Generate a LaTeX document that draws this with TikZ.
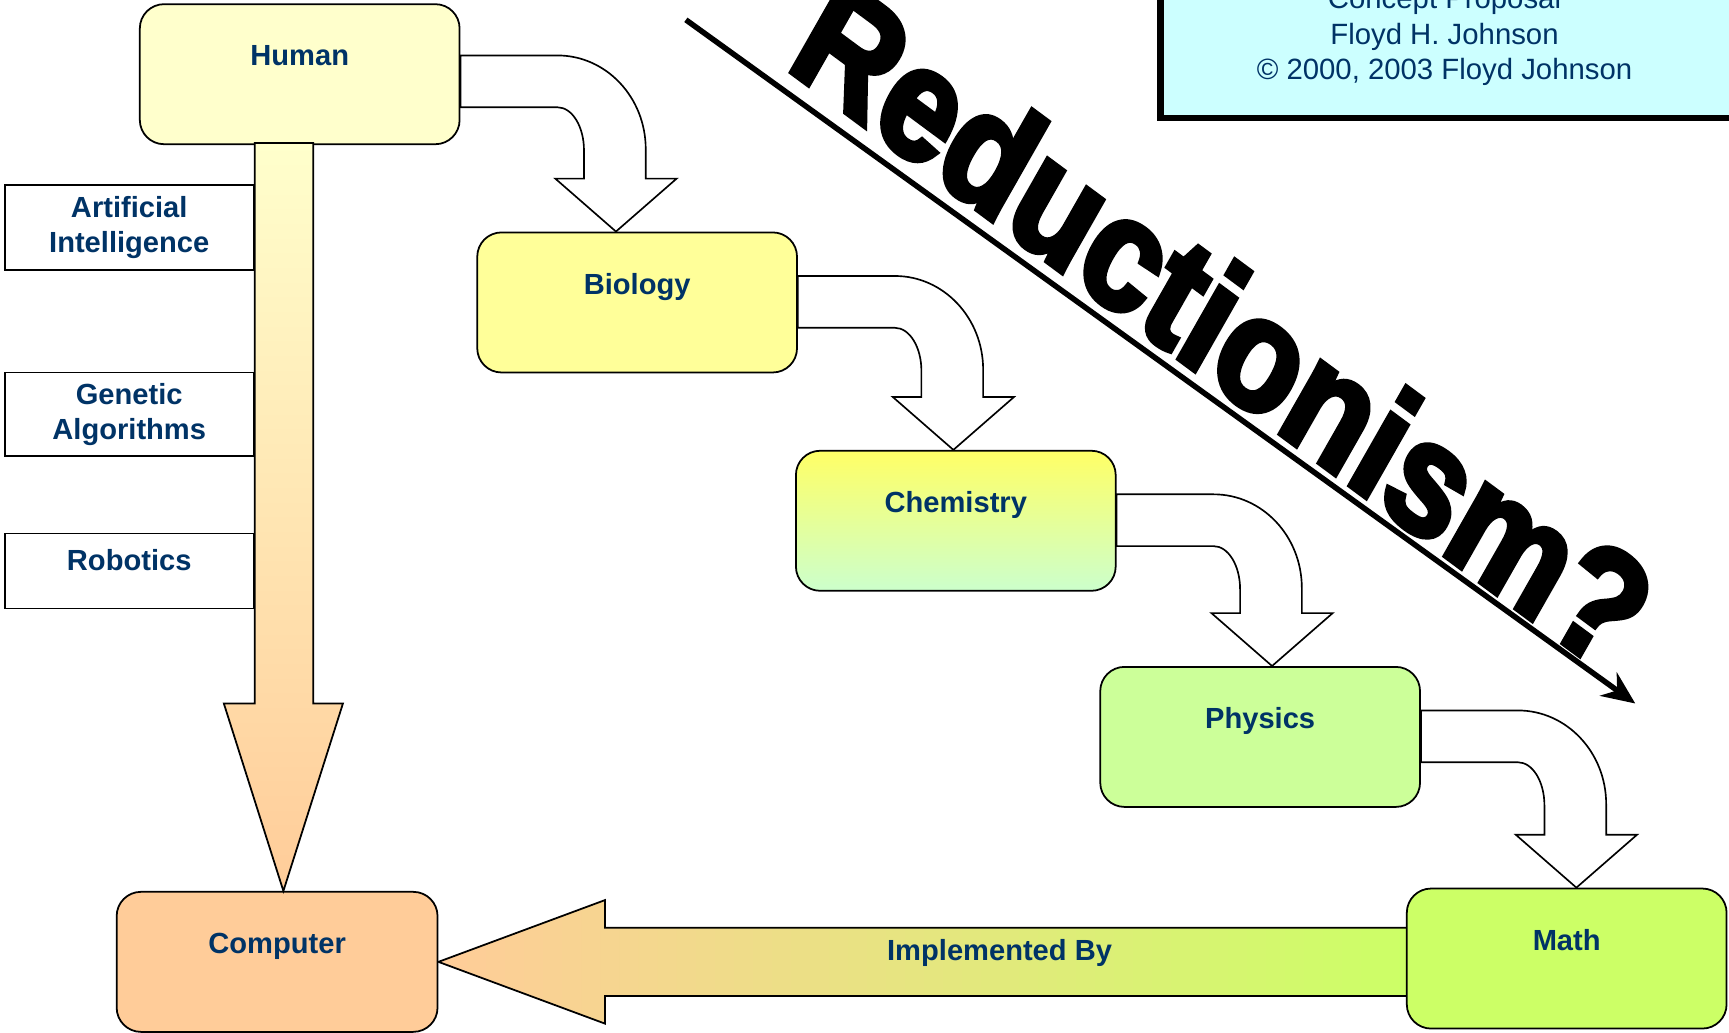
\documentclass[tikz,border=0pt]{standalone}
\usepackage{fontspec}
\setmainfont{Liberation Sans}
\newfontfamily\heavyfont[FakeBold=4]{Liberation Sans Bold}
\usetikzlibrary{arrows.meta}
\usetikzlibrary{positioning}
\usetikzlibrary{calc}
\usetikzlibrary{backgrounds}

\definecolor{labelblue}{HTML}{003366}
\definecolor{humanfill}{HTML}{FFFFCC}
\definecolor{biofill}{HTML}{FFFF99}
\definecolor{chemtop}{HTML}{FFFF66}
\definecolor{chembottom}{HTML}{CCFFCC}
\definecolor{physfill}{HTML}{CCFF99}
\definecolor{mathfill}{HTML}{CCFF66}
\definecolor{compfill}{HTML}{FFCC99}
\definecolor{titlefill}{HTML}{CCFFFF}

\begin{document}
\begin{tikzpicture}[x=0.5pt,y=0.5pt]
  \tikzset{sciencebox/.style={draw,line width=0.8pt,rounded corners=11pt,anchor=north west,
                              minimum width=145pt,inner ysep=0pt,text height=28pt,text depth=35.5pt,
                              font=\fontsize{13.2}{16}\selectfont\bfseries,text=labelblue},
           fieldbox/.style={draw,line width=0.8pt,fill=white,anchor=north east,minimum width=113pt,
                            align=center,font=\fontsize{13.2}{16}\selectfont\bfseries,text=labelblue},
           bentarrow/.style={draw,line width=0.75pt,fill=white},
           reduces/.style={-{Stealth[length=15pt,width=13pt]},line width=2.5pt}}
  \useasboundingbox (0,0) rectangle (1568,936);
  \clip (0,0) rectangle (1568,936);

  \node[sciencebox,fill=humanfill] (human) at (126,933) {Human};
  \node[sciencebox,fill=biofill] (biology) at (432,726) {Biology};
  \node[sciencebox,top color=chemtop,bottom color=chembottom] (chemistry) at (721,528) {Chemistry};
  \node[sciencebox,fill=physfill] (physics) at (997,332) {Physics};
  \node[sciencebox,fill=mathfill] (math) at (1275,131) {Math};
  \node[sciencebox,fill=compfill,minimum width=145.5pt] (computer) at (105,128) {Computer};

  \node[fieldbox,minimum height=38.5pt] (ai) at (231,769) {Artificial\\Intelligence};
  \node[fieldbox,minimum height=38pt] (genetic) at (231,599) {Genetic\\Algorithms};
  \node[fieldbox,minimum height=34pt,inner ysep=0pt,text height=17pt,text depth=17pt] (robotics) at (231,453) {Robotics};

  \path let \p1=(human.south west), \p2=(computer.north west) in
    [draw,line width=0.8pt,top color=humanfill,bottom color=compfill]
    (\x1+52.5pt,\y1+1pt) -- (\x1+79pt,\y1+1pt) -- (\x1+79pt,\y2+85pt) -- (\x1+92.5pt,\y2+85pt) --
    (\x1+65.5pt,\y2) -- (\x1+38.5pt,\y2+85pt) -- (\x1+52.5pt,\y2+85pt) -- cycle;

  \node[font=\fontsize{13.2}{16}\selectfont\bfseries,text=labelblue] (implemented)
    at ($(computer.east)!0.58!(math.west)+(0,6)$) {Implemented By};

  \node[draw,line width=3pt,fill=titlefill,anchor=south west,minimum width=285pt,minimum height=150pt]
    (titlebox) at (1049.5,826) {};
  \node[anchor=south,inner sep=0pt,align=center,font=\fontsize{13.3}{16}\selectfont,text=labelblue]
    (credits) at (1310,858) {Concept Proposal\\Floyd H. Johnson\\© 2000, 2003 Floyd Johnson};

  \coordinate (topleft) at (622,918);
  \coordinate (bottomright) at (1483,298);
  \draw[reduces] (topleft) -- (bottomright);
  \node[anchor=base west,rotate=-36.5,xslant=-0.12,xscale=0.92,inner sep=0pt,
        font=\fontsize{70}{76}\selectfont\heavyfont]
    (reductionism) at (711,876) {Reductionism?};

\begin{pgfonlayer}{background}
  \foreach \a/\b/\s in {human/biology/3.5pt,biology/chemistry/0pt,chemistry/physics/0pt,physics/math/0pt}
    \path let \p1=($(\a.east)-(0,\s)$), \p2=(\b.north) in [bentarrow]
      (\x1,\y1+12pt) -- (\x1+44pt,\y1+12pt) arc[start angle=90,end angle=0,x radius=40pt,y radius=42.5pt] --
      (\x1+84pt,\y2+24pt) -- (\x1+98pt,\y2+24pt) -- (\x1+70.5pt,\y2) -- (\x1+43pt,\y2+24pt) --
      (\x1+56pt,\y2+24pt) -- (\x1+56pt,\y1-31pt) arc[start angle=0,end angle=90,x radius=12pt,y radius=19.5pt] --
      (\x1,\y1-11.5pt) -- cycle;
  \path let \p1=(computer.east), \p2=(math.west) in
    [draw,line width=0.8pt,left color=compfill,right color=mathfill]
    (\p1) -- (\x1+75.5pt,\y1+28pt) -- (\x1+75.5pt,\y1+15.5pt) -- (\x2+1pt,\y1+15.5pt) --
    (\x2+1pt,\y1-15.5pt) -- (\x1+75.5pt,\y1-15.5pt) -- (\x1+75.5pt,\y1-28pt) -- cycle;
\end{pgfonlayer}
\end{tikzpicture}
\end{document}
